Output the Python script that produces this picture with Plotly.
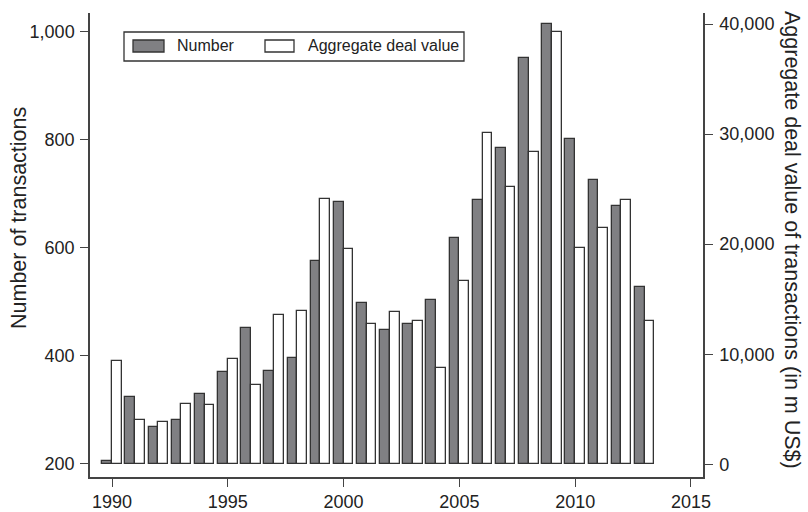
import plotly.graph_objects as go

# Yearly M&A activity
years = list(range(1990, 2014))
number_of_transactions = [205, 324, 268, 280, 329, 369, 450, 371, 395, 574, 684, 498,
                          448, 458, 502, 618, 687, 784, 950, 1013, 801, 725, 676, 527]
aggregate_deal_value = [9400, 4050, 3820, 5450, 5390, 9570, 7180, 13550, 13950, 24090,
                        19550, 12780, 13820, 13000, 8730, 16690, 30090, 25150, 28360,
                        39240, 19660, 21480, 24000, 13000]

left_ticks = [200, 400, 600, 800, 1000]
right_ticks = [0, 10000, 20000, 30000, 40000]
x_ticks = [1990, 1995, 2000, 2005, 2010, 2015]

W, H = 808, 512
ML, MR, MT, MB = 90, 105, 13, 35
PW, PH = W - ML - MR, H - MT - MB

FONT = "Liberation Sans, Arial, sans-serif"
TXT = "#222222"
AX = "#444444"
DARK = "#808083"
EDGE = "#333333"
BASE = 200

def px(x):
    return (x - ML) / PW

def py(y):
    return (H - MB - y) / PH

fig = go.Figure()
fig.add_trace(go.Bar(
    x=years, y=[v - BASE for v in number_of_transactions], base=BASE,
    width=0.42, offset=-0.42, name="Number",
    marker=dict(color=DARK, line=dict(color=EDGE, width=1.3)),
    yaxis="y", showlegend=False,
    customdata=number_of_transactions, hovertemplate="%{x}: %{customdata}<extra></extra>",
))
fig.add_trace(go.Bar(
    x=years, y=aggregate_deal_value,
    width=0.42, offset=0.0, name="Aggregate deal value",
    marker=dict(color="white", line=dict(color=EDGE, width=1.3)),
    yaxis="y2", showlegend=False,
))

axis_common = dict(showgrid=False, zeroline=False, showline=True, linecolor=AX,
                   linewidth=1.5, ticks="outside", ticklen=8, tickwidth=1.3,
                   tickcolor=AX, automargin=False,
                   tickfont=dict(family=FONT, size=18, color=TXT))

fig.update_layout(
    width=W, height=H, margin=dict(l=ML, r=MR, t=MT, b=MB),
    paper_bgcolor="white", plot_bgcolor="white",
    barmode="overlay", bargap=0,
    xaxis=dict(range=[1989.05, 2015.52], tickvals=x_ticks, ticklabelstandoff=0,
               **axis_common),
    yaxis=dict(range=[175, 1034], tickvals=left_ticks, tickformat=",d",
               ticklabelstandoff=2, **axis_common),
    yaxis2=dict(range=[-1155, 41000], tickvals=right_ticks, tickformat=",d",
                overlaying="y", side="right", ticklabelstandoff=3, **axis_common),
)

# Axis titles
fig.add_annotation(text="Number of transactions", xref="paper", yref="paper",
                   x=px(19), y=py(218), xanchor="center", yanchor="middle",
                   textangle=-90, showarrow=False,
                   font=dict(family=FONT, size=21.5, color=TXT))
fig.add_annotation(text="Aggregate deal value of transactions (in m US$)",
                   xref="paper", yref="paper", x=px(792), y=py(240),
                   xanchor="center", yanchor="middle", textangle=90,
                   showarrow=False, font=dict(family=FONT, size=21.5, color=TXT))

# Legend box
fig.add_shape(type="rect", xref="paper", yref="paper",
              x0=px(124), x1=px(464), y0=py(61), y1=py(32),
              line=dict(color=EDGE, width=1.3), fillcolor="white")
fig.add_shape(type="rect", xref="paper", yref="paper",
              x0=px(133), x1=px(164), y0=py(52), y1=py(40),
              line=dict(color=EDGE, width=1.3), fillcolor=DARK)
fig.add_shape(type="rect", xref="paper", yref="paper",
              x0=px(265), x1=px(294), y0=py(52), y1=py(40),
              line=dict(color=EDGE, width=1.3), fillcolor="white")
fig.add_annotation(text="Number", xref="paper", yref="paper", x=px(175), y=py(46),
                   xanchor="left", yanchor="middle", showarrow=False,
                   font=dict(family=FONT, size=16, color=TXT))
fig.add_annotation(text="Aggregate deal value", xref="paper", yref="paper",
                   x=px(306), y=py(46), xanchor="left", yanchor="middle",
                   showarrow=False, font=dict(family=FONT, size=16, color=TXT))

fig.write_html("out.html")
